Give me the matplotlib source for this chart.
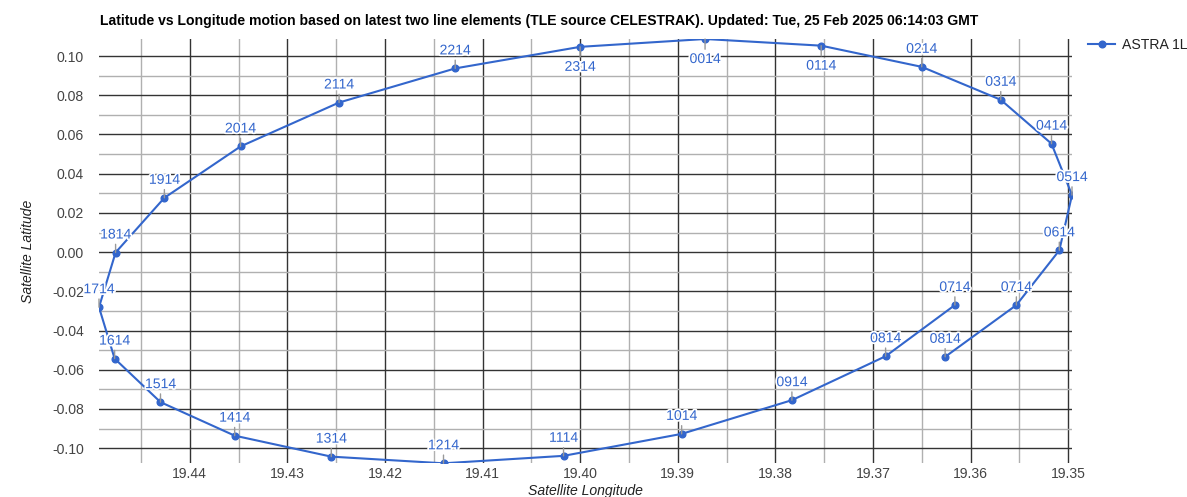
import matplotlib
matplotlib.use("Agg")
import matplotlib.pyplot as plt
import matplotlib.patheffects as pe
from matplotlib.ticker import MultipleLocator, FuncFormatter

plt.rcParams['font.family'] = ['Liberation Sans', 'DejaVu Sans']

labels = ["0814", "0714", "0614", "0514", "0414", "0314", "0214", "0114", "0014",
          "2314", "2214", "2114", "2014", "1914", "1814", "1714", "1614", "1514",
          "1414", "1314", "1214", "1114", "1014", "0914", "0814", "0714"]
lon = [19.3626, 19.3553, 19.3509, 19.3496, 19.3517, 19.3569, 19.3650, 19.3753, 19.3872,
       19.4000, 19.4128, 19.4247, 19.4348, 19.4426, 19.4476, 19.4493, 19.4477, 19.4430,
       19.4354, 19.4255, 19.4140, 19.4017, 19.3896, 19.3783, 19.3687, 19.3616]
lat = [-0.0534, -0.0270, 0.0009, 0.0291, 0.0553, 0.0777, 0.0945, 0.1053, 0.1087,
       0.1047, 0.0937, 0.0763, 0.0539, 0.0277, -0.0002, -0.0281, -0.0543, -0.0765,
       -0.0936, -0.1043, -0.1077, -0.1039, -0.0927, -0.0755, -0.0531, -0.0270]
below = {"2314", "0014", "0114"}

series_name = "ASTRA 1L"
title = ("Latitude vs Longitude motion based on latest two line elements "
         "(TLE source CELESTRAK). Updated: Tue, 25 Feb 2025 06:14:03 GMT")

FS = 10.1
W, H = 1187, 497
fig = plt.figure(figsize=(W / 100, H / 100), dpi=100)
ax = fig.add_axes([99 / W, 1 - 463.3 / H, (1072 - 99) / W, (463.3 - 39) / H])

blue = "#3366cc"
line, = ax.plot(lon, lat, color=blue, lw=1.5, marker="o", ms=4.8,
                label=series_name, zorder=3)

halo = [pe.withStroke(linewidth=2.5, foreground="white")]
for lb, x, y in zip(labels, lon, lat):
    if lb in below and y > 0.1:
        ax.annotate(lb, (x, y), xytext=(0, -13), textcoords="offset pixels",
                    ha="center", va="top", color=blue, fontsize=FS,
                    path_effects=halo,
                    arrowprops=dict(arrowstyle="-", color="#999999", lw=1,
                                    shrinkA=0, shrinkB=0, relpos=(0.5, 1)),
                    zorder=4)
    else:
        ax.annotate(lb, (x, y), xytext=(0, 14), textcoords="offset pixels",
                    ha="center", va="baseline", color=blue, fontsize=FS,
                    path_effects=halo,
                    arrowprops=dict(arrowstyle="-", color="#999999", lw=1,
                                    shrinkA=0, shrinkB=0, relpos=(0.5, 0)),
                    zorder=4)

ax.set_xlim(max(lon), min(lon))
ax.set_ylim(min(lat), max(lat))


def fmt(v, pos):
    s = f"{v:.2f}"
    return "0.00" if s == "-0.00" else s


ax.xaxis.set_major_locator(MultipleLocator(0.01))
ax.xaxis.set_minor_locator(MultipleLocator(0.005))
ax.yaxis.set_major_locator(MultipleLocator(0.02))
ax.yaxis.set_minor_locator(MultipleLocator(0.01))
ax.xaxis.set_major_formatter(FuncFormatter(fmt))
ax.yaxis.set_major_formatter(FuncFormatter(fmt))

ax.grid(which="major", color="#333333", lw=1, zorder=0)
ax.grid(which="minor", color="#b0b0b0", lw=1, zorder=0)
ax.set_axisbelow(True)
for s in ax.spines.values():
    s.set_visible(False)
ax.tick_params(which="both", length=0)
ax.tick_params(axis="y", pad=10.8, labelsize=FS, labelcolor="#444444")
ax.tick_params(axis="x", pad=3, labelsize=FS, labelcolor="#444444")

ax.set_xlabel("Satellite Longitude", fontsize=FS, style="italic", color="#222222",
              labelpad=2)
ax.set_ylabel("Satellite Latitude", fontsize=FS, style="italic", color="#222222",
              labelpad=12.5)

fig.text(100 / W, 1 - 20.5 / H, title, fontsize=FS, fontweight="bold",
         ha="left", va="center", color="#000000")

ax.legend(loc="upper left", bbox_to_anchor=(1088 / W, 1 - 38 / H),
          bbox_transform=fig.transFigure, frameon=False, fontsize=FS,
          handlelength=1.95, handletextpad=0.45, borderpad=0, borderaxespad=0,
          labelcolor="#222222")

fig.savefig("out.png", dpi=100)
